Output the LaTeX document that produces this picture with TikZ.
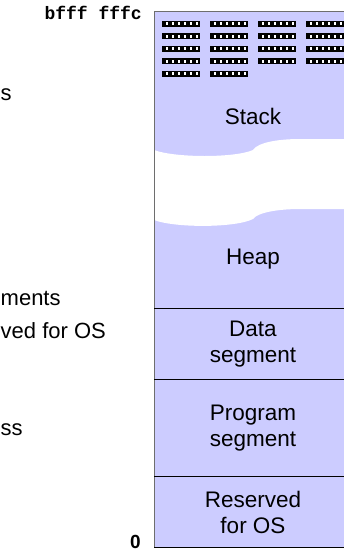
\documentclass[tikz,border=0pt]{standalone}
\usepackage{fontspec}
\setmainfont{Liberation Sans}
\setmonofont{Liberation Mono}
\definecolor{memfill}{HTML}{CCCCFF}
\definecolor{edgegray}{HTML}{6E6E6E}
\tikzset{ seg/.style = { align        = center
                       , font         = \fontsize{22.5}{26}\selectfont
                       , inner sep    = 0pt
                       },
          addr/.style = { font      = \fontsize{18}{20}\selectfont\ttfamily\bfseries
                        , inner sep = 0pt
                        , anchor    = base east
                        },
          cut/.style = { font      = \fontsize{22}{26}\selectfont
                       , inner sep = 0pt
                       , anchor    = base west
                       },
          word/.pic = { \fill[black] (0,-3) rectangle (38,3);
                        \foreach \k in {0,...,5}
                          \fill[white] ({3.5+6*\k},-1.5) rectangle ({5.7+6*\k},1.5);
                      }
        }

\begin{document}
\begin{tikzpicture}[x=1pt, y=-1pt]
    \useasboundingbox (0,0) rectangle (344,552);
    \clip (0,0) rectangle (344,552);

    % memory column
    \fill[memfill] (154,11) rectangle (360,547);
    \fill[white] (154,150) .. controls (175,158) and (235,158) .. (253,150)
                 .. controls (258,142) and (280,139) .. (300,139) -- (360,139)
                 -- (360,209) -- (300,209)
                 .. controls (280,209) and (258,212) .. (253,219)
                 .. controls (235,228) and (175,228) .. (154,220) -- cycle;
    \draw[edgegray] (154,11) -- (154,547);
    \draw[edgegray] (154,11) -- (360,11);
    \draw[black, semithick] (154,308) -- (360,308);
    \draw[black, semithick] (154,379) -- (360,379);
    \draw[black, semithick] (154,476) -- (360,476);
    \draw[black, semithick] (154,547) -- (360,547);

    % stack words
    \foreach \r in {0,...,3}
        \foreach \c in {0,...,3}
            \pic at ({162+48*\c},{23.5+12.5*\r}) {word};
    \foreach \c in {0,1}
        \pic at ({162+48*\c},73.5) {word};

    \node[seg] (stack) at (253,116) {Stack};
    \node[seg] (heap)  at (253,259) {Heap};
    \node[seg] (data)  at (253,344) {Data\\segment};
    \node[seg] (prog)  at (253,428) {Program\\segment};
    \node[seg] (os)    at (253,512) {Reserved\\for OS};

    % addresses
    \node[addr] (top) at (142,19.5) {bfff fffc};
    \node[font=\fontsize{19}{20}\selectfont\bfseries, inner sep=0pt, anchor=base east]
        (bottom) at (141,548) {0};

    % left text
    \node[cut] (l1) at (0.5,100) {s};
    \node[cut] (l2) at (0.5,305) {ments};
    \node[cut] (l3) at (0.5,338) {ved for OS};
    \node[cut] (l4) at (0.5,435) {ss};
\end{tikzpicture}
\end{document}
